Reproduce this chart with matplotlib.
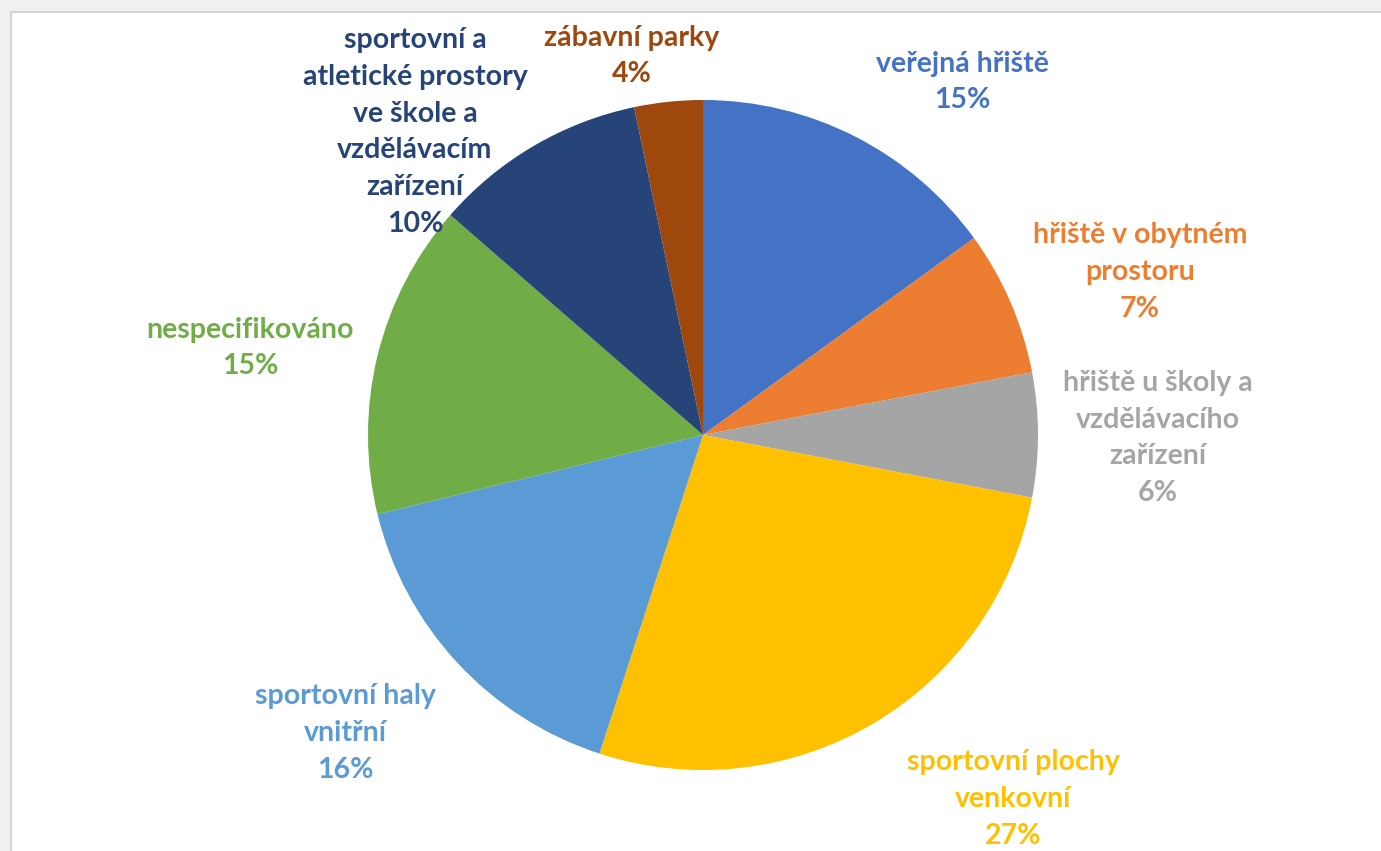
import matplotlib.pyplot as plt
from matplotlib.patches import Rectangle

# categories clockwise from the top
labels = [
    'veřejná hřiště',
    'hřiště v obytném\nprostoru',
    'hřiště u školy a\nvzdělávacího\nzařízení',
    'sportovní plochy\nvenkovní',
    'sportovní haly\nvnitřní',
    'nespecifikováno',
    'sportovní a\natletické prostory\nve škole a\nvzdělávacím\nzařízení',
    'zábavní parky',
]
values = [15.0, 7.0, 6.0, 27.0, 16.2, 15.2, 10.3, 3.3]
pct_labels = ['15%', '7%', '6%', '27%', '16%', '15%', '10%', '4%']
colors = ['#4472C4', '#ED7D31', '#A5A5A5', '#FFC000',
          '#5B9BD5', '#70AD47', '#264478', '#9E480E']

# label centres in pixels of the original picture
label_px = [(962, 82), (1140, 272), (1158, 438), (1013, 799),
            (345, 733), (250, 348), (415, 132), (632, 56)]

W, H = 1381, 851
CX, CY, R = 703, 435, 335

fig = plt.figure(figsize=(W / 100, H / 100), dpi=100)
fig.patch.set_facecolor('#F0F0F0')
fig.patches.append(Rectangle((11 / W, -0.01), 1, 1.01 - 12 / H, transform=fig.transFigure,
                             facecolor='white', edgecolor='#D4D4D4', linewidth=1.5,
                             zorder=-5))

ax = fig.add_axes([(CX - R) / W, (H - CY - R) / H, 2 * R / W, 2 * R / H])
ax.pie(values, colors=colors, startangle=90, counterclock=False, radius=1,
       wedgeprops=dict(linewidth=0))
ax.set_xlim(-1, 1)
ax.set_ylim(-1, 1)
ax.set_aspect('equal')
ax.axis('off')

for lab, pct, col, (px, py) in zip(labels, pct_labels, colors, label_px):
    ax.text((px - CX) / R, (CY - py) / R, f'{lab}\n{pct}', color=col,
            ha='center', va='center', multialignment='center',
            fontsize=20.5, fontweight='bold', family=['Lato', 'DejaVu Sans'],
            linespacing=1.52, clip_on=False)

fig.savefig('out.png', dpi=100, facecolor=fig.get_facecolor())
